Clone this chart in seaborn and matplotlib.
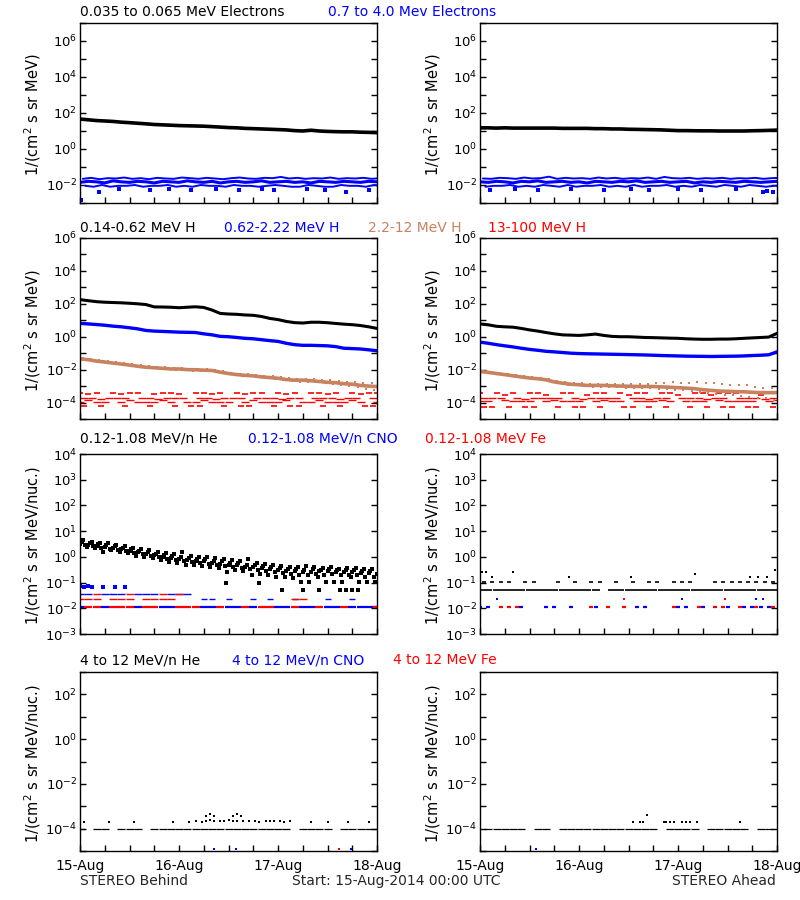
import numpy as np
import pandas as pd
import matplotlib
matplotlib.use("Agg")
import matplotlib.pyplot as plt
import matplotlib.dates as mdates
import matplotlib.ticker as mticker
import seaborn as sns

N = np.nan
START = pd.Timestamp("2014-08-15 00:00")
grid_hours = np.arange(0, 73, 2)  # 2-hourly sample times (37)

# ---------------- Row 1: electrons ----------------
e_lo_B = [46, 42, 38, 36, 34, 31, 29, 27, 25, 23, 22, 21, 20, 19.5, 19, 18.5, 17.5, 16.5, 15.5,
          15, 14, 13.5, 13, 12.5, 12, 11.5, 10.5, 10, 11, 10, 9.5, 9.2, 9, 9, 8.6, 8.4, 8.1]
e_hi_B_mid = [0.014, 0.016, 0.015, 0.013, 0.017, 0.015, 0.014, 0.016, 0.015, 0.013, 0.016, 0.015,
              0.014, 0.017, 0.015, 0.014, 0.016, 0.013, 0.015, 0.016, 0.014, 0.015, 0.017, 0.014,
              0.015, 0.016, 0.014, 0.015, 0.013, 0.016, 0.015, 0.014, 0.016, 0.015, 0.014, 0.016, 0.015]
e_hi_B_hi = [0.022, 0.025, 0.021, 0.024, 0.023, 0.026, 0.022, 0.024, 0.021, 0.025, 0.023, 0.022,
             0.026, 0.024, 0.022, 0.025, 0.023, 0.021, 0.024, 0.026, 0.023, 0.022, 0.025, 0.024,
             0.028, 0.023, 0.025, 0.022, 0.024, 0.023, 0.026, 0.022, 0.024, 0.023, 0.025, 0.022, 0.024]
e_hi_B_lo = [0.009, 0.008, 0.010, 0.008, 0.009, 0.009, 0.010, 0.008, 0.009, 0.009, 0.010, 0.008,
             0.009, 0.008, 0.010, 0.009, 0.009, 0.008, 0.010, 0.009, 0.009, 0.008, 0.009, 0.010,
             0.009, 0.008, 0.008, 0.010, 0.009, 0.008, 0.008, 0.010, 0.009, 0.009, 0.008, 0.010, 0.009]
e_hi_B_out_hours = [0.3, 4.5, 9.5, 17, 21.5, 27, 33, 38.5, 44, 47, 55, 59.5, 64.5, 70]
e_hi_B_out_vals = [0.0015, 0.004, 0.006, 0.005, 0.006, 0.005, 0.006, 0.005, 0.006, 0.005, 0.006,
                   0.005, 0.004, 0.005]

e_lo_A = [15, 15, 14.5, 15, 14.5, 14.5, 14.5, 14.5, 14.5, 14.5, 14, 14, 14, 14, 13.5, 13.5, 13, 13,
          12.5, 12.3, 12, 11.8, 11.5, 11, 10.5, 10.5, 10.3, 10.2, 10.2, 10, 10, 10, 10, 10.3, 10.5,
          10.8, 11.2]
e_hi_A_mid = [0.015, 0.014, 0.016, 0.015, 0.013, 0.016, 0.015, 0.017, 0.014, 0.015, 0.016, 0.014,
              0.015, 0.013, 0.016, 0.015, 0.014, 0.016, 0.015, 0.017, 0.014, 0.015, 0.016, 0.014,
              0.015, 0.016, 0.013, 0.015, 0.014, 0.016, 0.015, 0.014, 0.016, 0.015, 0.014, 0.015, 0.016]
e_hi_A_hi = [0.023, 0.022, 0.025, 0.024, 0.022, 0.026, 0.023, 0.024, 0.029, 0.022, 0.025, 0.023,
             0.024, 0.022, 0.026, 0.023, 0.025, 0.022, 0.024, 0.023, 0.026, 0.022, 0.028, 0.024,
             0.023, 0.025, 0.022, 0.024, 0.023, 0.025, 0.022, 0.024, 0.023, 0.025, 0.022, 0.024, 0.025]
e_hi_A_lo = [0.008, 0.009, 0.009, 0.010, 0.008, 0.009, 0.008, 0.010, 0.009, 0.008, 0.010, 0.008,
             0.009, 0.009, 0.010, 0.008, 0.009, 0.008, 0.010, 0.008, 0.009, 0.009, 0.010, 0.008,
             0.009, 0.008, 0.010, 0.009, 0.008, 0.010, 0.009, 0.008, 0.010, 0.009, 0.008, 0.009, 0.009]
e_hi_A_out_hours = [2.5, 8.5, 14, 22, 30, 36.5, 41, 48, 53.5, 62, 68.5, 69.5, 71]
e_hi_A_out_vals = [0.005, 0.006, 0.005, 0.006, 0.005, 0.006, 0.005, 0.006, 0.005, 0.006, 0.004,
                   0.0045, 0.004]

# ---------------- Row 2: protons ----------------
p1_B = [180, 155, 135, 125, 120, 115, 108, 100, 90, 65, 64, 62, 58, 62, 66, 60, 42, 26, 24, 23,
        21, 20, 17, 13, 11, 8.5, 7.2, 6.8, 7.6, 7.6, 7.1, 6.4, 5.8, 5.4, 4.8, 4.0, 3.2]
p2_B = [6.5, 6.0, 5.5, 5.0, 4.4, 4.0, 3.5, 3.0, 2.4, 2.2, 2.1, 2.0, 1.9, 1.85, 1.8, 1.5, 1.3, 1.05,
        1.0, 0.9, 0.8, 0.75, 0.66, 0.58, 0.52, 0.4, 0.33, 0.30, 0.30, 0.29, 0.28, 0.25, 0.2, 0.19,
        0.18, 0.16, 0.14]
p3_B = [0.045, 0.040, 0.033, 0.029, 0.025, 0.022, 0.019, 0.016, 0.014, 0.013, 0.012, 0.011, 0.011,
        0.010, 0.0098, 0.0093, 0.0089, 0.007, 0.0058, 0.005, 0.0045, 0.0042, 0.0036, 0.0033, 0.003,
        0.0025, 0.0023, 0.0023, 0.0021, 0.0019, 0.0017, 0.0016, 0.0014, 0.0013, 0.0011, 0.001, 0.00094]
p3_B_hi = [0.05, 0.045, 0.037, 0.032, 0.028, 0.025, 0.021, 0.018, 0.016, 0.0145, 0.0135, 0.0125,
           0.0125, 0.0115, 0.011, 0.0105, 0.01, 0.008, 0.0066, 0.0057, 0.0052, 0.0048, 0.0042,
           0.0039, 0.0036, 0.003, 0.0028, 0.0028, 0.0026, 0.0024, 0.0022, 0.0021, 0.0019, 0.0018,
           0.0016, 0.0015, 0.0014]
p3_B_lo = [0.04, 0.036, 0.029, 0.026, 0.022, 0.019, 0.017, 0.014, 0.0125, 0.0115, 0.0105, 0.0097,
           0.0097, 0.0088, 0.0086, 0.0082, 0.0078, 0.0061, 0.0051, 0.0044, 0.0039, 0.0036, 0.0031,
           0.0028, 0.0025, 0.0021, 0.0019, 0.0019, 0.0017, 0.0015, 0.0013, 0.0012, 0.001, 0.0009,
           0.0007, 0.0006, 0.0005]
p4_B_a = [4e-4, 3.3e-4, 4e-4, N, 4e-4, 3.3e-4, 4e-4, 4e-4, N, 3.3e-4, 4e-4, 4e-4, 3.3e-4, N, 4e-4,
          4e-4, 3.3e-4, 4e-4, N, 4e-4, 3.3e-4, 4e-4, 4e-4, N, 4e-4, 3.3e-4, 4e-4, N, 4e-4, 4e-4,
          3.3e-4, 4e-4, N, 4e-4, 3.3e-4, 4e-4, 4e-4]
p4_B_b = [2e-4, 2e-4, 1.7e-4, 2e-4, 2e-4, 2e-4, N, 2e-4, 2e-4, 1.7e-4, 2e-4, 2e-4, 2e-4, N, 2e-4,
          2e-4, 1.7e-4, 2e-4, 2e-4, 2e-4, N, 2e-4, 2e-4, 2e-4, 1.7e-4, 2e-4, 2e-4, N, 2e-4, 2e-4,
          2e-4, 1.7e-4, 2e-4, 2e-4, N, 2e-4, 2e-4]
p4_B_c = [1.1e-4, 1.4e-4, 1.1e-4, 1.1e-4, N, 1.1e-4, 1.4e-4, 1.1e-4, 1.1e-4, 1.1e-4, 1.4e-4, 1.1e-4,
          N, 1.1e-4, 1.1e-4, 1.4e-4, 1.1e-4, 1.1e-4, 1.1e-4, N, 1.1e-4, 1.4e-4, 1.1e-4, 1.1e-4,
          1.1e-4, 1.4e-4, N, 1.1e-4, 1.1e-4, 1.4e-4, 1.1e-4, 1.1e-4, 1.1e-4, 1.4e-4, 1.1e-4, N, 1.1e-4]
p4_B_d = [6.3e-5, N, 6.3e-5, N, N, 6.3e-5, N, N, 6.3e-5, N, N, 6.3e-5, N, 6.3e-5, 6.3e-5, N, N,
          6.3e-5, N, 6.3e-5, 6.3e-5, N, N, 6.3e-5, N, 6.3e-5, 6.3e-5, N, N, 6.3e-5, N, 6.3e-5, N, N,
          6.3e-5, 6.3e-5, N]

p1_A = [6, 5.3, 4.3, 4.0, 3.8, 3.2, 2.6, 2.2, 1.8, 1.5, 1.3, 1.25, 1.2, 1.3, 1.45, 1.2, 1.05, 1.0,
        1.0, 0.95, 0.9, 0.88, 0.85, 0.82, 0.8, 0.75, 0.72, 0.7, 0.7, 0.72, 0.72, 0.75, 0.8, 0.85,
        0.9, 0.95, 1.6]
p2_A = [0.47, 0.4, 0.33, 0.28, 0.24, 0.2, 0.17, 0.15, 0.13, 0.12, 0.11, 0.1, 0.095, 0.092, 0.09,
        0.088, 0.086, 0.084, 0.082, 0.08, 0.078, 0.075, 0.072, 0.07, 0.068, 0.066, 0.065, 0.064,
        0.063, 0.064, 0.065, 0.066, 0.068, 0.072, 0.075, 0.08, 0.12]
p3_A = [0.0077, 0.0068, 0.0058, 0.005, 0.0042, 0.0036, 0.0031, 0.0028, 0.0024, 0.0018, 0.0015,
        0.0013, 0.0012, 0.0011, 0.0011, 0.0011, 0.00105, 0.001, 0.00098, 0.00095, 0.00095, 0.00094,
        0.0009, 0.00085, 0.0008, 0.00075, 0.0007, 0.0006, 0.00055, 0.0005, 0.00048, 0.00046,
        0.00045, 0.00042, 0.0004, 0.0004, 0.0004]
p3_A_hi = [0.0085, 0.0075, 0.0064, 0.0056, 0.0047, 0.004, 0.0035, 0.0031, 0.0027, 0.0021, 0.0018,
           0.0016, 0.0015, 0.0014, 0.0014, 0.0014, 0.0014, 0.0013, 0.0013, 0.0013, 0.0014, 0.0015,
           0.0016, 0.0017, 0.0016, 0.0015, 0.0018, 0.0016, 0.0015, 0.0013, 0.0012, 0.0011, 0.0011,
           0.0009, 0.0008, 0.0008, 0.0007]
p3_A_lo = [0.0068, 0.006, 0.005, 0.0044, 0.0037, 0.0032, 0.0027, 0.0024, 0.002, 0.0015, 0.0012,
           0.0011, 0.001, 0.0009, 0.0009, 0.0009, 0.00085, 0.0008, 0.0008, 0.00075, 0.00072, 0.0007,
           0.00065, 0.0006, 0.00055, 0.0005, 0.00045, 0.0004, 0.00035, 0.0003, 0.00028, 0.00025,
           0.00022, 0.0002, 0.00018, 0.00015, 0.00012]
p4_A_a = [3.6e-4, N, 3.6e-4, 3e-4, 3.6e-4, N, 3.6e-4, 3.6e-4, 3e-4, N, 3.6e-4, 3.6e-4, N, 3e-4,
          3.6e-4, 3.6e-4, N, 3.6e-4, 3e-4, 3.6e-4, 3.6e-4, N, 3.6e-4, 3.6e-4, 3e-4, N, 3.6e-4,
          3.6e-4, 3e-4, 3.6e-4, 3.6e-4, 3.6e-4, N, 3.6e-4, 3e-4, 3.6e-4, 3.6e-4]
p4_A_b = [2e-4, 2e-4, 2e-4, N, 2e-4, 1.7e-4, 2e-4, 2e-4, 2e-4, 2e-4, N, 2e-4, 1.7e-4, 2e-4, 2e-4,
          2e-4, 2e-4, N, 2e-4, 2e-4, 1.7e-4, 2e-4, 2e-4, N, 2e-4, 2e-4, 2e-4, 1.7e-4, 2e-4, 2e-4, N,
          2e-4, 2e-4, 2e-4, 1.7e-4, 2e-4, 2e-4]
p4_A_c = [1.2e-4, 1.2e-4, N, 1.4e-4, 1.2e-4, 1.2e-4, 1.2e-4, N, 1.2e-4, 1.4e-4, 1.2e-4, 1.2e-4,
          1.2e-4, N, 1.2e-4, 1.4e-4, 1.2e-4, 1.2e-4, N, 1.2e-4, 1.2e-4, 1.2e-4, 1.4e-4, 1.2e-4, N,
          1.2e-4, 1.2e-4, 1.2e-4, N, 1.4e-4, 1.2e-4, 1.2e-4, 1.2e-4, 1.2e-4, N, 1.2e-4, 1.4e-4]
p4_A_d = [5.6e-5, 5.6e-5, N, 5.6e-5, N, 5.6e-5, 5.6e-5, N, N, 5.6e-5, N, 5.6e-5, 5.6e-5, N, 5.6e-5,
          N, N, 5.6e-5, 5.6e-5, N, 5.6e-5, N, 5.6e-5, N, N, 5.6e-5, N, 5.6e-5, N, 5.6e-5, 5.6e-5, N,
          5.6e-5, 5.6e-5, N, 5.6e-5, 5.6e-5]

# ---------------- Row 3: 0.12-1.08 MeV/n ions ----------------
he_B_mid = [3.3, 3.0, 2.7, 2.5, 2.3, 2.0, 1.7, 1.5, 1.3, 1.15, 1.0, 0.9, 0.82, 0.78, 0.7, 0.66, 0.6,
            0.55, 0.5, 0.47, 0.42, 0.39, 0.36, 0.33, 0.3, 0.28, 0.27, 0.26, 0.26, 0.27, 0.27, 0.26,
            0.25, 0.25, 0.24, 0.23, 0.22]
he_B_q1 = [3.9, 3.4, 3.1, 2.9, 2.6, 2.3, 2.0, 1.75, 1.5, 1.3, 1.2, 1.05, 1.0, 0.9, 0.85, 0.8, 0.72,
           0.68, 0.6, 0.58, 0.5, 0.48, 0.44, 0.4, 0.37, 0.35, 0.33, 0.32, 0.33, 0.31, 0.33, 0.3,
           0.31, 0.3, 0.29, 0.28, 0.27]
he_B_hi = [4.5, 3.8, 3.5, 3.4, 2.9, 2.6, 2.3, 2.0, 1.8, 1.5, 1.4, 1.3, 1.5, 1.1, 1.0, 0.95, 0.9,
           0.85, 0.75, 0.72, 0.8, 0.6, 0.55, 0.5, 0.45, 0.42, 0.4, 0.45, 0.4, 0.38, 0.4, 0.35, 0.38,
           0.36, 0.35, 0.33, 0.3]
he_B_q2 = [2.8, 2.6, 2.3, 2.1, 1.9, 1.7, 1.45, 1.25, 1.1, 0.95, 0.85, 0.75, 0.68, 0.62, 0.58, 0.55,
           0.5, 0.45, 0.4, 0.38, 0.35, 0.32, 0.28, 0.26, 0.23, 0.22, 0.2, 0.2, 0.21, 0.2, 0.21, 0.2,
           0.19, 0.2, 0.17, 0.17, 0.17]
he_B_lo = [2.5, 2.2, 1.5, 1.9, 1.6, 1.4, 1.1, 1.0, 0.9, 0.75, 0.65, 0.6, 0.5, 0.48, 0.45, 0.42, 0.38,
           0.25, 0.3, 0.28, 0.2, 0.22, 0.2, 0.17, 0.17, 0.15, 0.11, 0.11, 0.17, 0.11, 0.11, 0.11,
           0.17, 0.11, 0.11, 0.11, 0.17]
he_B_out_hours = [35.5, 43.5, 49, 54, 58, 63, 64.5, 66, 67.5]
he_B_out_vals = [0.1, 0.1, 0.053, 0.053, 0.053, 0.053, 0.053, 0.053, 0.053]
cno_B_early_hours = [0, 1, 2, 3, 5.5, 8.5, 11]
cno_B_early_vals = [0.075, 0.068, 0.072, 0.07, 0.07, 0.066, 0.07]
cno_B_l1 = [0.037, 0.037, N, 0.037, 0.037, 0.037, N, 0.037, 0.037, 0.037, N, 0.037, 0.037, 0.037,
            N, N, N, N, N, N, N, N, N, N, N, N, N, N, N, N, N, N, N, N, N, N, N]
cno_B_l2 = [N, N, N, N, N, N, N, N, N, N, N, N, N, N, N, 0.024, 0.024, N, 0.024, N, N, 0.024, N,
            0.024, N, N, 0.024, N, N, N, 0.024, N, N, 0.024, N, N, N]
cno_B_l3 = [0.0113, N, N, 0.0113, N, N, N, 0.0113, N, N, 0.0113, 0.0113, N, N, N, 0.0113, 0.0113, N,
            0.0113, 0.0113, N, 0.0113, N, N, 0.0113, 0.0113, N, 0.0113, 0.0113, N, 0.0113, 0.0113, N,
            0.0113, 0.0113, 0.0113, 0.0113]
fe_B_l1 = [N, N, 0.037, N, N, N, 0.037, N, N, N, 0.037, N, 0.037, N, N, N, N, N, N, N, N, N, N, N,
           N, N, N, N, N, N, N, N, N, N, N, N, N]
fe_B_l2 = [0.024, 0.024, 0.024, N, 0.024, 0.024, 0.024, N, 0.024, 0.024, 0.024, 0.024, N, N, N, N,
           N, N, N, N, N, N, N, N, N, N, 0.024, 0.024, N, N, N, N, N, N, N, N, N]
fe_B_l3 = [N, 0.0113, 0.0113, N, 0.0113, 0.0113, 0.0113, N, 0.0113, 0.0113, N, N, 0.0113, 0.0113,
           0.0113, N, N, 0.0113, N, N, 0.0113, N, 0.0113, 0.0113, N, N, 0.0113, N, N, 0.0113, N, N,
           0.0113, N, N, N, 0.0113]

he_A_l1 = [0.053, 0.053, 0.053, 0.053, 0.053, 0.053, 0.053, 0.053, 0.053, 0.053, 0.053, 0.053,
           0.053, 0.053, 0.053, N, 0.053, 0.053, 0.053, 0.053, 0.053, 0.053, 0.053, 0.053, 0.053,
           0.053, 0.053, 0.053, 0.053, 0.053, 0.053, 0.053, 0.053, 0.053, 0.053, 0.053, 0.053]
he_A_l2 = [0.107, 0.107, 0.107, 0.107, N, 0.107, 0.107, N, N, 0.107, N, 0.107, N, 0.107, 0.107, N,
           0.107, N, 0.107, N, 0.107, 0.107, N, 0.107, 0.107, 0.107, N, N, 0.107, 0.107, 0.107,
           0.107, 0.107, 0.107, 0.107, 0.107, 0.107]
he_A_top_hours = [0.5, 1.5, 3, 8, 21.5, 36.5, 52, 65.5, 67.5, 69.5, 71.5]
he_A_top_vals = [0.26, 0.26, 0.17, 0.26, 0.17, 0.17, 0.22, 0.17, 0.17, 0.17, 0.3]
cno_A_l3 = [0.0113, 0.0113, N, N, N, 0.0113, N, N, 0.0113, 0.0113, N, 0.0113, N, N, 0.0113, N, N,
            N, N, 0.0113, 0.0113, N, N, N, 0.0113, 0.0113, N, 0.0113, N, N, 0.0113, N, 0.0113,
            0.0113, 0.0113, 0.0113, N]
cno_A_l2_hours = [4, 49, 67, 68.5]
cno_A_l2_vals = [0.024, 0.024, 0.024, 0.024]
fe_A_l3 = [N, N, 0.0113, 0.0113, 0.0113, N, N, N, N, N, N, N, N, 0.0113, N, 0.0113, N, 0.0113, N,
           N, N, N, N, 0.0113, N, N, 0.0113, N, 0.0113, 0.0113, N, 0.0113, N, 0.0113, N, 0.0113,
           0.0113]
fe_A_l2_hours = [35, 59.5]
fe_A_l2_vals = [0.024, 0.024]

# ---------------- Row 4: 4-12 MeV/n ions ----------------
he4_B_base = [1e-4, N, 1e-4, 1e-4, N, 1e-4, 1e-4, 1e-4, N, 1e-4, 1e-4, 1e-4, 1e-4, 1e-4, 1e-4,
              1e-4, 1e-4, 1e-4, 1e-4, 1e-4, 1e-4, 1e-4, 1e-4, 1e-4, 1e-4, 1e-4, N, 1e-4, 1e-4,
              1e-4, 1e-4, N, 1e-4, 1e-4, 1e-4, 1e-4, 1e-4]
he4_B_dot_hours = [1, 7, 13, 22.5, 26.5, 28, 29.5, 30.5, 31.5, 32.5, 34, 35, 36, 37, 38, 39.5,
                   41, 42.5, 43.5, 45, 46, 47, 48.5, 49.5, 51, 56, 60, 65, 70]
he4_B_dot_vals = [2e-4, 2e-4, 2e-4, 2e-4, 2e-4, 2.3e-4, 2e-4, 2.3e-4, 2.5e-4, 2.3e-4, 2.3e-4,
                  2.3e-4, 2.5e-4, 2.3e-4, 2.3e-4, 2.3e-4, 2.3e-4, 2.3e-4, 2e-4, 2.3e-4, 2.3e-4,
                  2.3e-4, 2.3e-4, 2e-4, 2.3e-4, 2e-4, 2e-4, 2e-4, 2e-4]
he4_B_top_hours = [30.5, 31.5, 32.5, 37, 38, 39]
he4_B_top_vals = [3.8e-4, 4.5e-4, 3.8e-4, 3.8e-4, 4.5e-4, 3.8e-4]
cno4_B_hours = [32.4, 37.8, 65.8]
cno4_B_vals = [1.2e-5, 1.2e-5, 1.2e-5]
fe4_B_hours = [62.7]
fe4_B_vals = [1.2e-5]

he4_A_base = [N, 1e-4, 1e-4, 1e-4, 1e-4, 1e-4, N, 1e-4, 1e-4, N, 1e-4, 1e-4, 1e-4, 1e-4, 1e-4,
              1e-4, 1e-4, 1e-4, 1e-4, 1e-4, 1e-4, 1e-4, N, 1e-4, 1e-4, 1e-4, 1e-4, N, 1e-4, 1e-4,
              1e-4, 1e-4, 1e-4, N, 1e-4, 1e-4, N]
he4_A_dot_hours = [37, 38.7, 39.4, 44.5, 45, 46, 47, 49, 50, 51, 52.6, 63]
he4_A_dot_vals = [2e-4, 2e-4, 2e-4, 2e-4, 2e-4, 2e-4, 2e-4, 2e-4, 2e-4, 2e-4, 2e-4, 2e-4]
he4_A_top_hours = [40.6]
he4_A_top_vals = [4.1e-4]
cno4_A_hours = [13.6]
cno4_A_vals = [1.2e-5]

# ---------------- labels ----------------
row_titles = [
    [("0.035 to 0.065 MeV Electrons", 80, "black"), ("0.7 to 4.0 Mev Electrons", 328, "blue")],
    [("0.14-0.62 MeV H", 80, "black"), ("0.62-2.22 MeV H", 224, "blue"),
     ("2.2-12 MeV H", 368, "brown"), ("13-100 MeV H", 488, "red")],
    [("0.12-1.08 MeV/n He", 80, "black"), ("0.12-1.08 MeV/n CNO", 248, "blue"),
     ("0.12-1.08 MeV Fe", 425, "red")],
    [("4 to 12 MeV/n He", 80, "black"), ("4 to 12 MeV/n CNO", 232, "blue"),
     ("4 to 12 MeV Fe", 393, "red")],
]
ylab_flux = "1/(cm$^2$ s sr MeV)"
ylab_nuc = "1/(cm$^2$ s sr MeV/nuc.)"

# ---------------- styling ----------------
sns.set_theme(style="white")
plt.rcParams["font.family"] = ["DejaVu Sans"]
plt.rcParams["mathtext.fontset"] = "dejavusans"

COL = {"black": "#000000", "blue": "#0000ff", "brown": "#c8825f", "red": "#ff0000"}

fig = plt.figure(figsize=(8, 9), dpi=100)
fig.patch.set_facecolor("white")


def px_axes(left, top, right, bottom):
    return fig.add_axes([left / 800, 1 - bottom / 900, (right - left) / 800, (bottom - top) / 900])


def tt(hours):
    return START + pd.to_timedelta(np.asarray(hours, dtype=float), unit="h")


def band(ax, vals, color, lw, shift=0.0):
    sns.lineplot(x=tt(grid_hours + shift), y=vals, ax=ax, color=COL[color], lw=lw,
                 errorbar=None, sort=False, legend=False)


def dots(ax, hours, vals, color, size=3.0):
    sns.scatterplot(x=tt(hours), y=vals, ax=ax, color=COL[color], marker="s", s=size,
                    linewidth=0, legend=False)


def dashes(ax, hours, vals, color, size=30, lw=1.0):
    sns.scatterplot(x=tt(hours), y=vals, ax=ax, color=COL[color], marker="_", s=size,
                    linewidth=lw, legend=False)


def style(ax, ylim, exps, label_exps, show_x):
    ax.set_yscale("log")
    ax.set_ylim(*ylim)
    ax.set_xlim(START, START + pd.Timedelta(days=3))
    ax.set_yticks([10.0 ** e for e in exps],
                  labels=[f"$10^{{{e}}}$" if e in label_exps else "" for e in exps])
    ax.yaxis.set_minor_locator(mticker.NullLocator())
    ax.xaxis.set_major_locator(mdates.DayLocator())
    ax.xaxis.set_minor_locator(mdates.HourLocator(byhour=[6, 12, 18]))
    ax.xaxis.set_major_formatter(mdates.DateFormatter("%d-%b"))
    ax.tick_params(axis="both", which="both", direction="in", length=4.5, width=1,
                   colors="black", left=True, right=True, top=False, bottom=True,
                   labelsize=9.5)
    ax.tick_params(axis="y", pad=2)
    ax.tick_params(axis="x", pad=6, labelbottom=show_x, labelsize=10)
    ax.set_xlabel("")
    ax.set_ylabel("")
    ax.grid(False)
    for sp in ax.spines.values():
        sp.set_color("black")
        sp.set_linewidth(1.0)


rows_px = [(23, 203), (238, 419), (454, 634), (672, 851)]
cols_px = [(80, 377), (480, 777)]
axes = [[px_axes(c[0], r[0], c[1], r[1]) for c in cols_px] for r in rows_px]

# Row 1
for ax, blk, mid, hi, lo, oh, ov in [
        (axes[0][0], e_lo_B, e_hi_B_mid, e_hi_B_hi, e_hi_B_lo, e_hi_B_out_hours, e_hi_B_out_vals),
        (axes[0][1], e_lo_A, e_hi_A_mid, e_hi_A_hi, e_hi_A_lo, e_hi_A_out_hours, e_hi_A_out_vals)]:
    band(ax, blk, "black", 2.6)
    band(ax, hi, "blue", 1.4, 0.7)
    band(ax, lo, "blue", 1.4, 1.3)
    band(ax, mid, "blue", 2.2)
    dots(ax, oh, ov, "blue", 5)
    style(ax, (1e-3, 1e7), list(range(-3, 8)), [-2, 0, 2, 4, 6], False)

# Row 2
for ax, a, b, c, chi, clo, r1, r2, r3, r4 in [
        (axes[1][0], p1_B, p2_B, p3_B, p3_B_hi, p3_B_lo, p4_B_a, p4_B_b, p4_B_c, p4_B_d),
        (axes[1][1], p1_A, p2_A, p3_A, p3_A_hi, p3_A_lo, p4_A_a, p4_A_b, p4_A_c, p4_A_d)]:
    dashes(ax, grid_hours, r1, "red", size=25, lw=1.2)
    dashes(ax, grid_hours + 1, r2, "red", size=36, lw=1.0)
    dashes(ax, grid_hours, r3, "red", size=36, lw=1.0)
    dashes(ax, grid_hours + 1, r4, "red", size=20, lw=1.2)
    dots(ax, grid_hours + 0.7, chi, "brown", 4)
    dots(ax, grid_hours + 1.3, clo, "brown", 4)
    band(ax, c, "brown", 2.6)
    band(ax, b, "blue", 2.4)
    band(ax, a, "black", 2.2)
    style(ax, (1e-5, 1e6), list(range(-5, 7)), [-4, -2, 0, 2, 4, 6], False)

# Row 3
ax = axes[2][0]
for off, arr in [(0.0, he_B_mid), (0.4, he_B_q1), (0.8, he_B_hi), (1.2, he_B_q2), (1.6, he_B_lo)]:
    dots(ax, grid_hours + off, arr, "black", 5)
dots(ax, he_B_out_hours, he_B_out_vals, "black", 5)
dots(ax, cno_B_early_hours, cno_B_early_vals, "blue", 5)
dashes(ax, grid_hours, cno_B_l1, "blue", size=36, lw=1.0)
dashes(ax, grid_hours, fe_B_l1, "red", size=36, lw=1.0)
dashes(ax, grid_hours, cno_B_l2, "blue", size=20, lw=1.0)
dashes(ax, grid_hours, fe_B_l2, "red", size=36, lw=1.0)
dashes(ax, grid_hours, cno_B_l3, "blue", size=36, lw=1.6)
dashes(ax, grid_hours, fe_B_l3, "red", size=36, lw=1.6)
style(ax, (1e-3, 1e4), list(range(-3, 5)), list(range(-3, 5)), False)

ax = axes[2][1]
dashes(ax, grid_hours, he_A_l1, "black", size=36, lw=1.2)
dashes(ax, grid_hours + 1, he_A_l2, "black", size=10, lw=1.2)
dots(ax, he_A_top_hours, he_A_top_vals, "black", 4)
dashes(ax, grid_hours, cno_A_l3, "blue", size=12, lw=1.6)
dots(ax, cno_A_l2_hours, cno_A_l2_vals, "blue", 4)
dashes(ax, grid_hours + 1, fe_A_l3, "red", size=12, lw=1.6)
dots(ax, fe_A_l2_hours, fe_A_l2_vals, "red", 4)
style(ax, (1e-3, 1e4), list(range(-3, 5)), list(range(-3, 5)), False)

# Row 4
ax = axes[3][0]
dashes(ax, grid_hours, he4_B_base, "black", size=34, lw=0.9)
dots(ax, he4_B_dot_hours, he4_B_dot_vals, "black", 4)
dots(ax, he4_B_top_hours, he4_B_top_vals, "black", 4)
dots(ax, cno4_B_hours, cno4_B_vals, "blue", 4)
dots(ax, fe4_B_hours, fe4_B_vals, "red", 4)
style(ax, (1e-5, 1e3), list(range(-5, 4)), [-4, -2, 0, 2], True)

ax = axes[3][1]
dashes(ax, grid_hours, he4_A_base, "black", size=34, lw=0.9)
dots(ax, he4_A_dot_hours, he4_A_dot_vals, "black", 4)
dots(ax, he4_A_top_hours, he4_A_top_vals, "black", 4)
dots(ax, cno4_A_hours, cno4_A_vals, "blue", 4)
style(ax, (1e-5, 1e3), list(range(-5, 4)), [-4, -2, 0, 2], True)

# Y labels
for r, (top, bot) in enumerate(rows_px):
    lab = ylab_flux if r < 2 else ylab_nuc
    for xoff in (0, 400):
        fig.text((33 + xoff) / 800, 1 - ((top + bot) / 2 + 2) / 900, lab, rotation=90,
                 ha="center", va="center", fontsize=10.5, color="black")

# Row titles
title_y = [12, 228, 439, 660]
for r, items in enumerate(row_titles):
    for txt, x, c in items:
        fig.text(x / 800, 1 - title_y[r] / 900, txt, color=COL[c], fontsize=10,
                 ha="left", va="center")

# Footer
fig.text(80 / 800, 1 - 881 / 900, "STEREO Behind", fontsize=10, ha="left", va="center")
fig.text(292 / 800, 1 - 881 / 900, "Start: 15-Aug-2014 00:00 UTC", fontsize=10,
         ha="left", va="center")
fig.text(776 / 800, 1 - 881 / 900, "STEREO Ahead", fontsize=10, ha="right", va="center")

fig.savefig("out.png", dpi=100, facecolor="white")
